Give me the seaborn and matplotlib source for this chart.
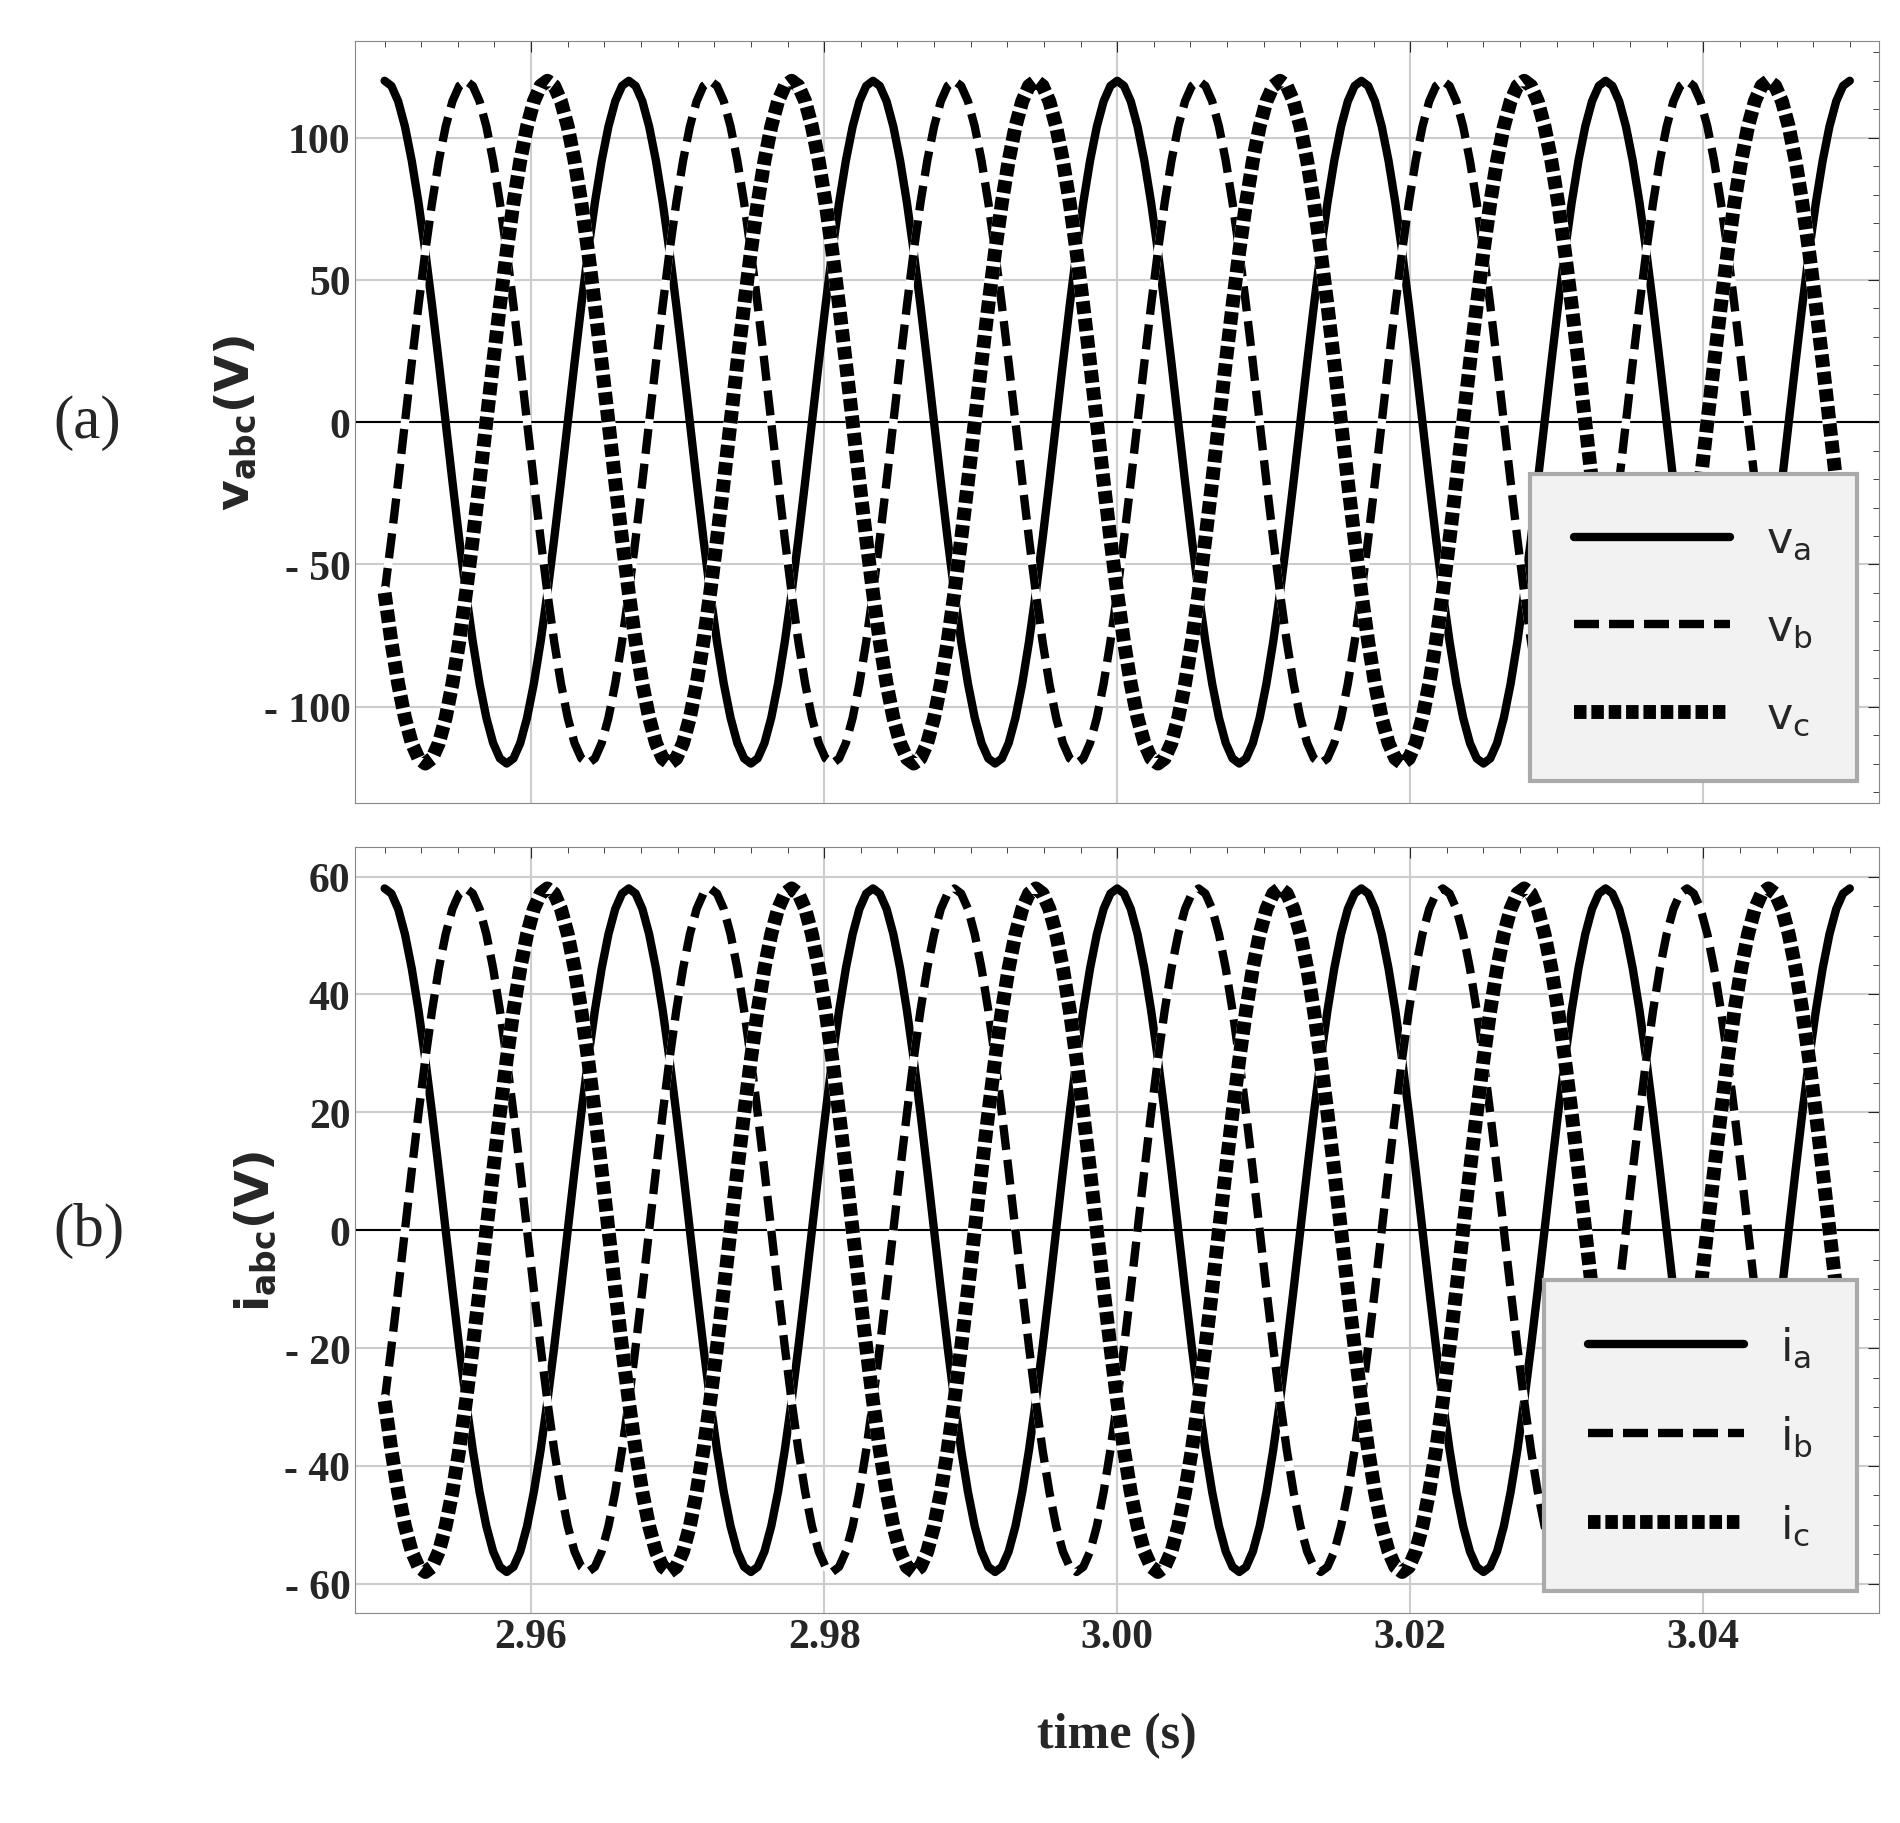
import numpy as np
import pandas as pd
import matplotlib
matplotlib.use("Agg")
import matplotlib.pyplot as plt
import seaborn as sns
from matplotlib.ticker import MultipleLocator

# one period of phase-a waveform read at 10-degree steps (per-unit of peak)
cycle_pu = [1.0, 0.985, 0.94, 0.866, 0.766, 0.643, 0.5, 0.342, 0.174, 0.0,
            -0.174, -0.342, -0.5, -0.643, -0.766, -0.866, -0.94, -0.985,
            -1.0, -0.985, -0.94, -0.866, -0.766, -0.643, -0.5, -0.342, -0.174,
            0.0, 0.174, 0.342, 0.5, 0.643, 0.766, 0.866, 0.94, 0.985]
v_peak = 120.0
i_peak = 58.0
n_cycles = 6
t_start, t_end = 2.95, 3.05
phase_shift = 12  # samples = 120 degrees

base = np.array(cycle_pu * n_cycles + [cycle_pu[0]])
t = np.linspace(t_start, t_end, len(base))
pa = base
pb = np.roll(base[:-1], phase_shift); pb = np.append(pb, pb[0])
pc = np.roll(base[:-1], -phase_shift); pc = np.append(pc, pc[0])

sns.set_style("white")
plt.rcParams['font.family'] = ['Liberation Serif', 'DejaVu Serif']

fig = plt.figure(figsize=(19, 18.24), dpi=100)
ax1 = fig.add_axes([0.187, 0.559, 0.802, 0.418])
ax2 = fig.add_axes([0.187, 0.115, 0.802, 0.420])

def panel(ax, peak, names, ylim, major, minor, ylabel, tag):
    df = pd.DataFrame({"t": t, "a": pa * peak, "b": pb * peak, "c": pc * peak})
    ax.grid(True, color="#cccccc", lw=1.5)
    ax.axhline(0, color="black", lw=1.5, zorder=1)
    sns.lineplot(data=df, x="t", y="a", ax=ax, color="black", lw=6, label=names[0], zorder=3)
    sns.lineplot(data=df, x="t", y="b", ax=ax, color="white", lw=6, zorder=3, legend=False)
    sns.lineplot(data=df, x="t", y="b", ax=ax, color="black", lw=6, ls=(0, (3, 1.2)), label=names[1], zorder=3)
    sns.lineplot(data=df, x="t", y="c", ax=ax, color="white", lw=10, zorder=3, legend=False)
    sns.lineplot(data=df, x="t", y="c", ax=ax, color="black", lw=10, ls=(0, (0.9, 0.35)), label=names[2], zorder=3)
    ax.set_xlim(2.948, 3.052)
    ax.set_ylim(*ylim)
    ax.yaxis.set_major_locator(MultipleLocator(major))
    ax.yaxis.set_minor_locator(MultipleLocator(minor))
    ax.xaxis.set_major_locator(MultipleLocator(0.02))
    ax.xaxis.set_minor_locator(MultipleLocator(0.0025))
    ax.tick_params(which="both", direction="in", top=True, right=True, length=8)
    ax.tick_params(which="minor", length=4)
    ax.tick_params(labelsize=30)
    for l in ax.get_yticklabels() + ax.get_xticklabels():
        l.set_fontweight("bold")
    ax.yaxis.set_major_formatter(matplotlib.ticker.FuncFormatter(
        lambda v, p: ("- %d" % -v) if v < 0 else "%d" % v))
    ax.set_ylabel(ylabel, fontsize=34, fontweight="bold")
    ax.set_xlabel("")
    for s in ax.spines.values():
        s.set_color("#888888")
    leg = ax.legend(loc="lower right", fontsize=32, frameon=True, fancybox=False,
                    handlelength=3.5, labelspacing=1.0, borderpad=1.0,
                    prop={"family": "DejaVu Sans", "size": 32})
    leg.get_frame().set_facecolor("#f2f2f2")
    leg.get_frame().set_edgecolor("#aaaaaa")
    leg.get_frame().set_linewidth(3)
    leg.get_frame().set_alpha(1)
    leg.set_zorder(5)
    fig.text(0.028, ax.get_position().y0 + ax.get_position().height * 0.5, tag,
             fontsize=44, va="center")

panel(ax1, v_peak, ["$\\mathregular{v_a}$", "$\\mathregular{v_b}$", "$\\mathregular{v_c}$"],
      (-134, 134), 50, 10, "$\\mathbf{v_{abc}(V)}$", "(a)")
panel(ax2, i_peak, ["$\\mathregular{i_a}$", "$\\mathregular{i_b}$", "$\\mathregular{i_c}$"],
      (-65, 65), 20, 5, "$\\mathbf{i_{abc}(V)}$", "(b)")
ax1.set_xticklabels([])
ax2.xaxis.set_major_formatter(matplotlib.ticker.FormatStrFormatter("%.2f"))
ax2.set_xlabel("time (s)", fontsize=36, fontweight="bold", labelpad=40)
plt.rcParams['mathtext.fontset'] = 'custom'
fig.savefig("out.png", dpi=100)
